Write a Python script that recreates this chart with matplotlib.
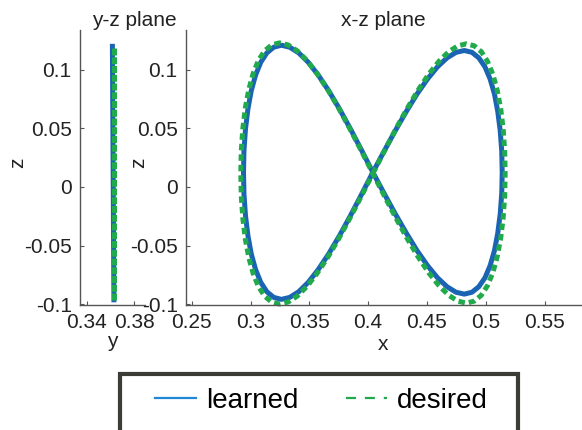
import matplotlib
matplotlib.use('Agg')
import matplotlib.pyplot as plt
from matplotlib.lines import Line2D
from matplotlib.patches import Rectangle

plt.rcParams['font.family'] = ['Liberation Sans', 'DejaVu Sans']

# x-z plane, learned trajectory
learned_x = [0.404, 0.4136, 0.4231, 0.4325, 0.4416, 0.4505, 0.459, 0.4671, 0.4747, 0.4818,
             0.4883, 0.4941, 0.4993, 0.5037, 0.5074, 0.5102, 0.5123, 0.5136, 0.514,
             0.5136, 0.5123, 0.5102, 0.5074, 0.5037, 0.4993, 0.4941, 0.4883, 0.4818,
             0.4747, 0.4671, 0.459, 0.4505, 0.4416, 0.4325, 0.4231, 0.4136, 0.404,
             0.3944, 0.3849, 0.3755, 0.3664, 0.3575, 0.349, 0.3409, 0.3333, 0.3262,
             0.3197, 0.3139, 0.3087, 0.3043, 0.3006, 0.2978, 0.2957, 0.2944, 0.294,
             0.2944, 0.2957, 0.2978, 0.3006, 0.3043, 0.3087, 0.3139, 0.3197, 0.3262,
             0.3333, 0.3409, 0.349, 0.3575, 0.3664, 0.3755, 0.3849, 0.3944, 0.404]
learned_z = [0.0125, 0.0306, 0.0481, 0.0645, 0.0794, 0.0922, 0.1026, 0.1102, 0.1149, 0.1165,
             0.1149, 0.1102, 0.1026, 0.0922, 0.0794, 0.0645, 0.0481, 0.0306, 0.0125,
             -0.0056, -0.0231, -0.0395, -0.0544, -0.0672, -0.0776, -0.0852, -0.0899, -0.0915,
             -0.0899, -0.0852, -0.0776, -0.0672, -0.0544, -0.0395, -0.0231, -0.0056, 0.0125,
             0.0313, 0.0496, 0.0668, 0.0822, 0.0956, 0.1065, 0.1145, 0.1193, 0.121,
             0.1193, 0.1145, 0.1065, 0.0956, 0.0822, 0.0668, 0.0496, 0.0313, 0.0125,
             -0.0063, -0.0246, -0.0418, -0.0572, -0.0706, -0.0815, -0.0895, -0.0943, -0.096,
             -0.0943, -0.0895, -0.0815, -0.0706, -0.0572, -0.0418, -0.0246, -0.0063, 0.0125]

# x-z plane, desired trajectory
desired_x = [0.404, 0.4138, 0.4235, 0.4331, 0.4425, 0.4515, 0.4603, 0.4685, 0.4763, 0.4835,
             0.4902, 0.4962, 0.5014, 0.506, 0.5097, 0.5127, 0.5148, 0.5161, 0.5165,
             0.5161, 0.5148, 0.5127, 0.5097, 0.506, 0.5014, 0.4962, 0.4902, 0.4835,
             0.4763, 0.4685, 0.4603, 0.4515, 0.4425, 0.4331, 0.4235, 0.4138, 0.404,
             0.3942, 0.3845, 0.3749, 0.3656, 0.3565, 0.3478, 0.3396, 0.3318, 0.3246,
             0.318, 0.312, 0.3067, 0.3022, 0.2985, 0.2955, 0.2934, 0.2921, 0.2917,
             0.2921, 0.2934, 0.2955, 0.2985, 0.3022, 0.3067, 0.312, 0.318, 0.3246,
             0.3318, 0.3396, 0.3478, 0.3565, 0.3656, 0.3749, 0.3845, 0.3942, 0.404]
desired_z = [0.0115, 0.0307, 0.0494, 0.0669, 0.0827, 0.0963, 0.1074, 0.1155, 0.1205, 0.1222,
             0.1205, 0.1155, 0.1074, 0.0963, 0.0827, 0.0669, 0.0494, 0.0307, 0.0115,
             -0.0077, -0.0264, -0.0439, -0.0597, -0.0733, -0.0844, -0.0925, -0.0975, -0.0992,
             -0.0975, -0.0925, -0.0844, -0.0733, -0.0597, -0.0439, -0.0264, -0.0077, 0.0115,
             0.0309, 0.0496, 0.0673, 0.0832, 0.0969, 0.1081, 0.1163, 0.1213, 0.123,
             0.1213, 0.1163, 0.1081, 0.0969, 0.0832, 0.0673, 0.0496, 0.0309, 0.0115,
             -0.0079, -0.0266, -0.0443, -0.0602, -0.0739, -0.0851, -0.0933, -0.0983, -0.1,
             -0.0983, -0.0933, -0.0851, -0.0739, -0.0602, -0.0443, -0.0266, -0.0079, 0.0115]

# y-z plane
learned_y = [0.3616, 0.3629]
learned_yz = [0.1222, -0.0985]
desired_y = [0.3632, 0.3632]
desired_yz = [0.119, -0.0965]

z_ticks = [-0.1, -0.05, 0, 0.05, 0.1]
z_labels = ['-0.1', '-0.05', '0', '0.05', '0.1']
y_ticks = [0.34, 0.38]
y_labels = ['0.34', '0.38']
x_ticks = [0.25, 0.3, 0.35, 0.4, 0.45, 0.5, 0.55]
x_labels = ['0.25', '0.3', '0.35', '0.4', '0.45', '0.5', '0.55']

blue = '#1b64b4'
green = '#20aa4c'
fs = 15

fig = plt.figure(figsize=(5.82, 4.30), dpi=100)
ax1 = fig.add_axes([80 / 582, 1 - 305 / 430, 65 / 582, 275 / 430])
ax2 = fig.add_axes([186 / 582, 1 - 305 / 430, 395 / 582, 275 / 430])


def style(ax):
    for s in ['top', 'right']:
        ax.spines[s].set_visible(False)
    for s in ['left', 'bottom']:
        ax.spines[s].set_color('#555555')
        ax.spines[s].set_linewidth(1.0)
    ax.tick_params(direction='in', length=3, width=0.8, color='#555555',
                   labelsize=fs, labelcolor='#222222', pad=6)
    ax.set_ylim(-0.1008, 0.134)
    ax.set_yticks(z_ticks)
    ax.set_yticklabels(z_labels)
    ax.set_ylabel('z', fontsize=fs, color='#222222')


style(ax1)
ax1.plot(learned_y, learned_yz, color=blue, lw=3.6, solid_capstyle='butt')
ax1.plot(desired_y, desired_yz, color=green, lw=3.6, dashes=(1.4, 0.35))
ax1.set_xlim(0.3344, 0.389)
ax1.set_xticks(y_ticks)
ax1.set_xticklabels(y_labels)
ax1.set_xlabel('y', fontsize=fs, color='#222222', labelpad=0)
ax1.set_title('y-z plane', fontsize=fs, color='#222222', x=0.83, pad=3)
ax1.yaxis.set_label_coords(-0.815, 0.516)

style(ax2)
ax2.plot(learned_x, learned_z, color=blue, lw=3.6, solid_joinstyle='round')
ax2.plot(desired_x, desired_z, color=green, lw=3.6, dashes=(1.3, 0.8), clip_on=False)
ax2.set_xlim(0.2451, 0.581)
ax2.set_xticks(x_ticks)
ax2.set_xticklabels(x_labels)
ax2.set_xlabel('x', fontsize=fs, color='#222222', labelpad=2)
ax2.set_title('x-z plane', fontsize=fs, color='#222222', pad=3)
ax2.yaxis.set_label_coords(-0.096, 0.516)

# legend box, cut off by the bottom of the figure
fig.patches.append(Rectangle((120 / 582, -0.05), 398 / 582, 1 - 374 / 430 + 0.05,
                             transform=fig.transFigure, facecolor='white',
                             edgecolor='#3c3c36', linewidth=3.0))
handles = [Line2D([], [], color='#2088d6', lw=1.6),
           Line2D([], [], color=green, lw=1.6, dashes=(4.5, 4))]
fig.legend(handles, ['learned', 'desired'], loc='center', ncol=2,
           bbox_to_anchor=(0.552, 1 - 401 / 430), frameon=False,
           fontsize=20, handlelength=1.5, handletextpad=0.35, columnspacing=1.7)

fig.savefig('out.png', dpi=100)
